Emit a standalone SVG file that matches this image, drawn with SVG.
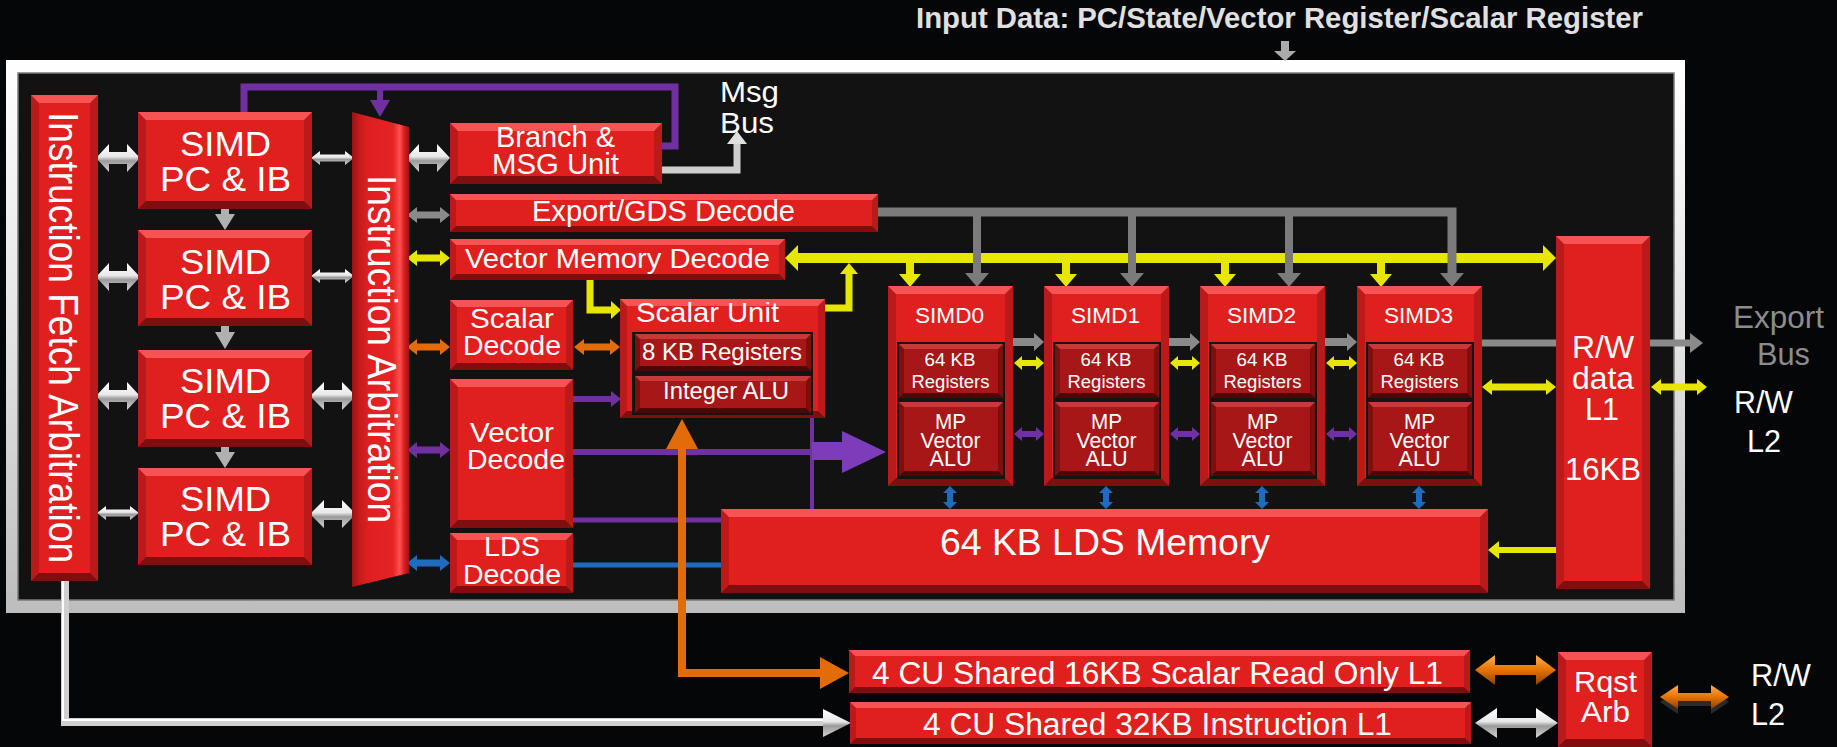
<svg xmlns="http://www.w3.org/2000/svg" width="1837" height="747" viewBox="0 0 1837 747">
<style>
.t{font-family:"Liberation Sans",Arial,sans-serif;fill:#fff}
.b{font-weight:bold}
.bo{fill:#bb1a1a}.bt{fill:#f65454}.bb{fill:#7f0e0e}.bf{fill:#e01f1f}
.do{fill:#7e0f0f}.dt{fill:#c83a3a}.db{fill:#4d0707}.df{fill:#a71717}
.fr{fill:#141414}
.sv{fill:url(#silv)}.or{fill:url(#orG)}
.gy{fill:#8a8a8a}.yl{fill:#e6e600}.oc{fill:#e36c0a}.pu{fill:#7030a0}.bl{fill:#1f6bbf}
.ls{fill:none;stroke-linejoin:miter}
</style>
<defs>
<linearGradient id="silv" x1="0" y1="0" x2="0" y2="1"><stop offset="0" stop-color="#ffffff"/><stop offset="0.45" stop-color="#e8e8e8"/><stop offset="0.6" stop-color="#9a9a9a"/><stop offset="1" stop-color="#d4d4d4"/></linearGradient>
<linearGradient id="orG" x1="0" y1="0" x2="0" y2="1"><stop offset="0" stop-color="#ffb050"/><stop offset="0.5" stop-color="#e57200"/><stop offset="1" stop-color="#8a4000"/></linearGradient>
<linearGradient id="frameG" x1="0" y1="0" x2="0" y2="1"><stop offset="0" stop-color="#ffffff"/><stop offset="0.5" stop-color="#e4e4e4"/><stop offset="1" stop-color="#bdbdbd"/></linearGradient>
<linearGradient id="iag" x1="0" y1="0" x2="1" y2="0"><stop offset="0" stop-color="#9a1212"/><stop offset="0.14" stop-color="#c81b1b"/><stop offset="0.3" stop-color="#e02020"/><stop offset="0.72" stop-color="#e42424"/><stop offset="0.84" stop-color="#ff5050"/><stop offset="0.92" stop-color="#d81e1e"/><stop offset="1" stop-color="#a01414"/></linearGradient>
</defs>
<rect x="0" y="0" width="1837" height="747" fill="#050607"/>
<text class="t b" x="916" y="28" font-size="29" fill="#e0e0e0" style="fill:#e0e0e0" textLength="727" lengthAdjust="spacingAndGlyphs">Input Data: PC/State/Vector Register/Scalar Register</text>
<g id="frame">
<rect x="6" y="60" width="1679" height="553" fill="url(#frameG)"/>
<rect x="18" y="73" width="1656" height="527" fill="#121212" stroke="#7a7a7a" stroke-width="1.5"/>
</g>

<g id="connectors">
<path fill="#aaaaaa" d="M1281,41H1289V51H1296L1285,61L1274,51H1281Z"/>
<!-- PC arrows -->
<polygon class="sv" points="96,158 109,144 109,152 127,152 127,144 140,158 127,172 127,164 109,164 109,172"/>
<polygon class="sv" points="311,158 320,151 320,154.5 345,154.5 345,151 354,158 345,165 345,161.5 320,161.5 320,165"/>
<polygon class="sv" points="406,158 419,144 419,152 437,152 437,144 450,158 437,172 437,164 419,164 419,172"/>
<polygon class="sv" points="96,277 109,263 109,271 127,271 127,263 140,277 127,291 127,283 109,283 109,291"/>
<polygon class="sv" points="311,276 320,269 320,272.5 345,272.5 345,269 354,276 345,283 345,279.5 320,279.5 320,283"/>
<polygon class="sv" points="96,396 109,382 109,390 127,390 127,382 140,396 127,410 127,402 109,402 109,410"/>
<polygon class="sv" points="310,396 324,382 324,390 342,390 342,382 356,396 342,410 342,402 324,402 324,410"/>
<polygon class="sv" points="97,513 106,506 106,509.5 130,509.5 130,506 139,513 130,520 130,516.5 106,516.5 106,520"/>
<polygon class="sv" points="310,514 324,500 324,508 342,508 342,500 356,514 342,528 342,520 324,520 324,528"/>
<path fill="#b0b0b0" d="M221,209H229V214H235L225,230L215,214H221Z"/>
<path fill="#b0b0b0" d="M221,326H229V332H235L225,349L215,332H221Z"/>
<path fill="#b0b0b0" d="M221,447H229V452H235L225,468L215,452H221Z"/>
<!-- IA to decoders -->
<polygon class="gy" points="407,215 417,207 417,211.5 440,211.5 440,207 450,215 440,223 440,218.5 417,218.5 417,223"/>
<polygon class="yl" points="407,258 417,250 417,254.5 440,254.5 440,250 450,258 440,266 440,261.5 417,261.5 417,266"/>
<polygon class="oc" points="407,347 417,339 417,343.5 440,343.5 440,339 450,347 440,355 440,350.5 417,350.5 417,355"/>
<polygon class="pu" points="407,450 417,442 417,446.5 440,446.5 440,442 450,450 440,458 440,453.5 417,453.5 417,458"/>
<polygon class="bl" points="407,563 417,555 417,559.5 440,559.5 440,555 450,563 440,571 440,566.5 417,566.5 417,571"/>
<!-- purple loop -->
<path class="ls" stroke="#7030a0" stroke-width="7" d="M244,112V87H675V146H662"/>
<path class="pu" d="M377,87H383V100H390L380,117L370,100H377Z"/>
<!-- msg bus -->
<path class="ls" stroke="#cfcfcf" stroke-width="7" d="M662,170H737V143"/>
<polygon fill="#e0e0e0" points="727,144 747,144 737,131"/>
<!-- yellow bus -->
<rect class="yl" x="795" y="253" width="751" height="10"/>
<polygon class="yl" points="785,258 798,245 798,271"/>
<polygon class="yl" points="1556,258 1543,245 1543,271"/>
<path class="yl" d="M906,263H914V274H921L910,287L899,274H906Z"/>
<path class="yl" d="M1062,263H1070V274H1077L1066,287L1055,274H1062Z"/>
<path class="yl" d="M1221,263H1229V274H1236L1225,287L1214,274H1221Z"/>
<path class="yl" d="M1377,263H1385V274H1392L1381,287L1370,274H1377Z"/>
<path class="ls" stroke="#e6e600" stroke-width="7" d="M825,308H849V272"/>
<polygon class="yl" points="840,274 858,274 849,263"/>
<path class="ls" stroke="#e6e600" stroke-width="7" d="M590,280V310H612"/>
<polygon class="yl" points="611,301 621,310 611,319"/>
<!-- export bus -->
<path class="ls" stroke="#7b7b7b" stroke-width="9" d="M878,212H1452V274"/>
<path class="ls" stroke="#7b7b7b" stroke-width="8" d="M977,212V274M1132,212V274M1289,212V274"/>
<polygon fill="#7b7b7b" points="965,273 989,273 977,287"/>
<polygon fill="#7b7b7b" points="1120,273 1144,273 1132,287"/>
<polygon fill="#7b7b7b" points="1277,273 1301,273 1289,287"/>
<polygon fill="#7b7b7b" points="1440,273 1464,273 1452,287"/>
<!-- scalar / vector decode links -->
<polygon class="oc" points="574,347 584,339 584,343.5 610,343.5 610,339 620,347 610,355 610,350.5 584,350.5 584,355"/>
<path class="ls" stroke="#7030a0" stroke-width="6" d="M573,399H612"/>
<polygon class="pu" points="611,391 621,399 611,407"/>
<path class="ls" stroke="#7030a0" stroke-width="6" d="M573,452H815"/>
<path class="ls" stroke="#7030a0" stroke-width="4" d="M812,417V509"/>
<rect x="812" y="442" width="31" height="18" fill="#7d3dbb"/>
<polygon fill="#7d3dbb" points="842,431 886,452 842,473"/>
<path class="ls" stroke="#7030a0" stroke-width="5" d="M573,520H721"/>
<path class="ls" stroke="#1f6bbf" stroke-width="5" d="M573,565H721"/>
<path class="ls" stroke="#e36c0a" stroke-width="8" d="M682,448V673H822"/>
<polygon class="oc" points="666,449 698,449 682,419"/>
<polygon class="oc" points="820,657 849,673 820,689"/>
<!-- between SIMDs -->
<path fill="#8a8a8a" d="M1013,338H1034V333L1044,342L1034,351V346H1013Z"/>
<path fill="#8a8a8a" d="M1169,338H1190V333L1200,342L1190,351V346H1169Z"/>
<path fill="#8a8a8a" d="M1325,338H1347V333L1357,342L1347,351V346H1325Z"/>
<polygon class="yl" points="1014,363 1022,356 1022,360 1036,360 1036,356 1044,363 1036,370 1036,366 1022,366 1022,370"/>
<polygon class="yl" points="1170,363 1178,356 1178,360 1192,360 1192,356 1200,363 1192,370 1192,366 1178,366 1178,370"/>
<polygon class="yl" points="1326,363 1334,356 1334,360 1349,360 1349,356 1357,363 1349,370 1349,366 1334,366 1334,370"/>
<polygon class="pu" points="1014,434 1022,427 1022,431 1036,431 1036,427 1044,434 1036,441 1036,437 1022,437 1022,441"/>
<polygon class="pu" points="1170,434 1178,427 1178,431 1192,431 1192,427 1200,434 1192,441 1192,437 1178,437 1178,441"/>
<polygon class="pu" points="1326,434 1334,427 1334,431 1349,431 1349,427 1357,434 1349,441 1349,437 1334,437 1334,441"/>
<polygon class="bl" points="950,486 957,493 953,493 953,502 957,502 950,509 943,502 947,502 947,493 943,493"/>
<polygon class="bl" points="1106,486 1113,493 1109,493 1109,502 1113,502 1106,509 1099,502 1103,502 1103,493 1099,493"/>
<polygon class="bl" points="1262,486 1269,493 1265,493 1265,502 1269,502 1262,509 1255,502 1259,502 1259,493 1255,493"/>
<polygon class="bl" points="1419,486 1426,493 1422,493 1422,502 1426,502 1419,509 1412,502 1416,502 1416,493 1412,493"/>
<!-- R/W links -->
<path class="ls" stroke="#8a8a8a" stroke-width="7" d="M1482,343H1556"/>
<path class="ls" stroke="#8a8a8a" stroke-width="7" d="M1650,343H1691"/>
<polygon fill="#8a8a8a" points="1690,333 1703,343 1690,353"/>
<polygon class="yl" points="1482,387 1492,379 1492,383.5 1546,383.5 1546,379 1556,387 1546,395 1546,390.5 1492,390.5 1492,395"/>
<polygon class="yl" points="1651,387 1661,379 1661,383.5 1697,383.5 1697,379 1707,387 1697,395 1697,390.5 1661,390.5 1661,395"/>
<path class="ls" stroke="#e6e600" stroke-width="6" d="M1498,550H1556"/>
<polygon class="yl" points="1499,541 1488,550 1499,559"/>
<!-- lower -->
<path class="ls" stroke="#cfcfcf" stroke-width="8" d="M65,581V722H825"/>
<path class="ls" stroke="#ffffff" stroke-width="2" d="M63,581V720H825"/>
<polygon class="sv" points="823,709 851,723 823,737"/>
<polygon class="or" points="1475,670 1495,655 1495,665 1536,665 1536,655 1556,670 1536,685 1536,675 1495,675 1495,685"/>
<polygon class="sv" points="1475,723 1497,708 1497,718 1536,718 1536,708 1558,723 1536,738 1536,728 1497,728 1497,738"/>
<polygon fill="#2a2a2a" points="1660,702 1678,690 1678,698 1711,698 1711,690 1729,702 1711,714 1711,706 1678,706 1678,714"/>
<polygon class="or" points="1660,697 1678,685 1678,693 1711,693 1711,685 1729,697 1711,709 1711,701 1678,701 1678,709"/>
</g>

<g id="ifa">
<rect class="bo" x="31" y="95" width="67" height="486"/>
<path class="bt" d="M31,95H98L90,103H39Z"/><path class="bb" d="M31,581H98L90,573H39Z"/>
<rect class="bf" x="39" y="103" width="51" height="470"/>
<text class="t" transform="translate(49,112) rotate(90)" font-size="43" textLength="451" lengthAdjust="spacingAndGlyphs">Instruction Fetch Arbitration</text>
</g>

<g id="pc1">
<rect class="bo" x="138" y="112" width="174" height="97"/>
<path class="bt" d="M138,112H312L304,120H146Z"/><path class="bb" d="M138,209H312L304,201H146Z"/>
<rect class="bf" x="146" y="120" width="158" height="81"/>
<text class="t" x="180" y="156" font-size="35" textLength="91" lengthAdjust="spacingAndGlyphs">SIMD</text>
<text class="t" x="160" y="191" font-size="35" textLength="131" lengthAdjust="spacingAndGlyphs">PC &amp; IB</text>
</g>
<g id="pc2">
<rect class="bo" x="138" y="230" width="174" height="96"/>
<path class="bt" d="M138,230H312L304,238H146Z"/><path class="bb" d="M138,326H312L304,318H146Z"/>
<rect class="bf" x="146" y="238" width="158" height="80"/>
<text class="t" x="180" y="274" font-size="35" textLength="91" lengthAdjust="spacingAndGlyphs">SIMD</text>
<text class="t" x="160" y="309" font-size="35" textLength="131" lengthAdjust="spacingAndGlyphs">PC &amp; IB</text>
</g>
<g id="pc3">
<rect class="bo" x="138" y="350" width="174" height="97"/>
<path class="bt" d="M138,350H312L304,358H146Z"/><path class="bb" d="M138,447H312L304,439H146Z"/>
<rect class="bf" x="146" y="358" width="158" height="81"/>
<text class="t" x="180" y="393" font-size="35" textLength="91" lengthAdjust="spacingAndGlyphs">SIMD</text>
<text class="t" x="160" y="428" font-size="35" textLength="131" lengthAdjust="spacingAndGlyphs">PC &amp; IB</text>
</g>
<g id="pc4">
<rect class="bo" x="138" y="468" width="174" height="97"/>
<path class="bt" d="M138,468H312L304,476H146Z"/><path class="bb" d="M138,565H312L304,557H146Z"/>
<rect class="bf" x="146" y="476" width="158" height="81"/>
<text class="t" x="180" y="511" font-size="35" textLength="91" lengthAdjust="spacingAndGlyphs">SIMD</text>
<text class="t" x="160" y="546" font-size="35" textLength="131" lengthAdjust="spacingAndGlyphs">PC &amp; IB</text>
</g>

<g id="ia">
<polygon fill="url(#iag)" points="352,112 409,127 409,573 352,587"/>
<text class="t" transform="translate(368,175) rotate(90)" font-size="40" textLength="348" lengthAdjust="spacingAndGlyphs">Instruction Arbitration</text>
</g>

<g id="branch">
<rect class="bo" x="450" y="123" width="212" height="61"/>
<path class="bt" d="M450,123H662L654,131H458Z"/><path class="bb" d="M450,184H662L654,176H458Z"/>
<rect class="bf" x="458" y="131" width="196" height="45"/>
<text class="t" x="496" y="147" font-size="30" textLength="119" lengthAdjust="spacingAndGlyphs">Branch &amp;</text>
<text class="t" x="492" y="174" font-size="30" textLength="127" lengthAdjust="spacingAndGlyphs">MSG Unit</text>
</g>
<text class="t" x="720" y="102" font-size="30" textLength="59" lengthAdjust="spacingAndGlyphs">Msg</text>
<text class="t" x="720" y="133" font-size="30" textLength="54" lengthAdjust="spacingAndGlyphs">Bus</text>

<g id="export">
<rect class="bo" x="450" y="194" width="428" height="38"/>
<path class="bt" d="M450,194H878L872,200H456Z"/><path class="bb" d="M450,232H878L872,226H456Z"/>
<rect class="bf" x="456" y="200" width="416" height="26"/>
<text class="t" x="532" y="221" font-size="29" textLength="263" lengthAdjust="spacingAndGlyphs">Export/GDS Decode</text>
</g>
<g id="vmd">
<rect class="bo" x="450" y="239" width="335" height="41"/>
<path class="bt" d="M450,239H785L779,245H456Z"/><path class="bb" d="M450,280H785L779,274H456Z"/>
<rect class="bf" x="456" y="245" width="323" height="29"/>
<text class="t" x="465" y="268" font-size="28" textLength="305" lengthAdjust="spacingAndGlyphs">Vector Memory Decode</text>
</g>
<g id="sd">
<rect class="bo" x="450" y="300" width="123" height="70"/>
<path class="bt" d="M450,300H573L566,307H457Z"/><path class="bb" d="M450,370H573L566,363H457Z"/>
<rect class="bf" x="457" y="307" width="109" height="56"/>
<text class="t" x="470" y="328" font-size="28" textLength="84" lengthAdjust="spacingAndGlyphs">Scalar</text>
<text class="t" x="463" y="355" font-size="28" textLength="98" lengthAdjust="spacingAndGlyphs">Decode</text>
</g>
<g id="vd">
<rect class="bo" x="450" y="379" width="123" height="149"/>
<path class="bt" d="M450,379H573L565,387H458Z"/><path class="bb" d="M450,528H573L565,520H458Z"/>
<rect class="bf" x="458" y="387" width="107" height="133"/>
<text class="t" x="470" y="442" font-size="28" textLength="84" lengthAdjust="spacingAndGlyphs">Vector</text>
<text class="t" x="467" y="469" font-size="28" textLength="98" lengthAdjust="spacingAndGlyphs">Decode</text>
</g>
<g id="ldsd">
<rect class="bo" x="450" y="533" width="123" height="60"/>
<path class="bt" d="M450,533H573L566,540H457Z"/><path class="bb" d="M450,593H573L566,586H457Z"/>
<rect class="bf" x="457" y="540" width="109" height="46"/>
<text class="t" x="484" y="556" font-size="28" textLength="56" lengthAdjust="spacingAndGlyphs">LDS</text>
<text class="t" x="463" y="584" font-size="28" textLength="98" lengthAdjust="spacingAndGlyphs">Decode</text>
</g>

<g id="scalarunit">
<rect class="bo" x="620" y="299" width="205" height="119"/>
<path class="bt" d="M620,299H825L818,306H627Z"/><path class="bb" d="M620,418H825L818,411H627Z"/>
<rect class="bf" x="627" y="306" width="191" height="105"/>
<text class="t" x="636" y="322" font-size="28" textLength="143" lengthAdjust="spacingAndGlyphs">Scalar Unit</text>
<rect class="fr" x="632" y="332" width="181" height="83"/>
<rect class="do" x="635" y="334" width="176" height="37"/>
<path class="dt" d="M635,334H811L806,339H640Z"/><path class="db" d="M635,371H811L806,366H640Z"/>
<rect class="df" x="640" y="339" width="166" height="27"/>
<text class="t" x="642" y="360" font-size="23" textLength="160" lengthAdjust="spacingAndGlyphs">8 KB Registers</text>
<rect class="do" x="635" y="376" width="176" height="37"/>
<path class="dt" d="M635,376H811L806,381H640Z"/><path class="db" d="M635,413H811L806,408H640Z"/>
<rect class="df" x="640" y="381" width="166" height="27"/>
<text class="t" x="663" y="399" font-size="23" textLength="126" lengthAdjust="spacingAndGlyphs">Integer ALU</text>
</g>

<g id="simd0">
<rect class="bo" x="888" y="286" width="125" height="200"/>
<path class="bt" d="M888,286H1013L1005,294H896Z"/><path class="bb" d="M888,486H1013L1005,478H896Z"/>
<rect class="bf" x="896" y="294" width="109" height="184"/>
<text class="t" x="915" y="323" font-size="22" textLength="69" lengthAdjust="spacingAndGlyphs">SIMD0</text>
<rect class="fr" x="897" y="342" width="108" height="137"/>
<rect class="do" x="899" y="344" width="104" height="54"/>
<path class="dt" d="M899,344H1003L998,349H904Z"/><path class="db" d="M899,398H1003L998,393H904Z"/>
<rect class="df" x="904" y="349" width="94" height="44"/>
<rect class="do" x="899" y="402" width="104" height="74"/>
<path class="dt" d="M899,402H1003L998,407H904Z"/><path class="db" d="M899,476H1003L998,471H904Z"/>
<rect class="df" x="904" y="407" width="94" height="64"/>
<text class="t" x="924.5" y="366" font-size="18" textLength="51" lengthAdjust="spacingAndGlyphs">64 KB</text>
<text class="t" x="911.5" y="388" font-size="18" textLength="78" lengthAdjust="spacingAndGlyphs">Registers</text>
<text class="t" x="935" y="429" font-size="22" textLength="31" lengthAdjust="spacingAndGlyphs">MP</text>
<text class="t" x="920.5" y="448" font-size="22" textLength="60" lengthAdjust="spacingAndGlyphs">Vector</text>
<text class="t" x="929.5" y="466" font-size="22" textLength="42" lengthAdjust="spacingAndGlyphs">ALU</text>
</g>
<g id="simd1">
<rect class="bo" x="1044" y="286" width="125" height="200"/>
<path class="bt" d="M1044,286H1169L1161,294H1052Z"/><path class="bb" d="M1044,486H1169L1161,478H1052Z"/>
<rect class="bf" x="1052" y="294" width="109" height="184"/>
<text class="t" x="1071" y="323" font-size="22" textLength="69" lengthAdjust="spacingAndGlyphs">SIMD1</text>
<rect class="fr" x="1053" y="342" width="108" height="137"/>
<rect class="do" x="1055" y="344" width="104" height="54"/>
<path class="dt" d="M1055,344H1159L1154,349H1060Z"/><path class="db" d="M1055,398H1159L1154,393H1060Z"/>
<rect class="df" x="1060" y="349" width="94" height="44"/>
<rect class="do" x="1055" y="402" width="104" height="74"/>
<path class="dt" d="M1055,402H1159L1154,407H1060Z"/><path class="db" d="M1055,476H1159L1154,471H1060Z"/>
<rect class="df" x="1060" y="407" width="94" height="64"/>
<text class="t" x="1080.5" y="366" font-size="18" textLength="51" lengthAdjust="spacingAndGlyphs">64 KB</text>
<text class="t" x="1067.5" y="388" font-size="18" textLength="78" lengthAdjust="spacingAndGlyphs">Registers</text>
<text class="t" x="1091" y="429" font-size="22" textLength="31" lengthAdjust="spacingAndGlyphs">MP</text>
<text class="t" x="1076.5" y="448" font-size="22" textLength="60" lengthAdjust="spacingAndGlyphs">Vector</text>
<text class="t" x="1085.5" y="466" font-size="22" textLength="42" lengthAdjust="spacingAndGlyphs">ALU</text>
</g>
<g id="simd2">
<rect class="bo" x="1200" y="286" width="125" height="200"/>
<path class="bt" d="M1200,286H1325L1317,294H1208Z"/><path class="bb" d="M1200,486H1325L1317,478H1208Z"/>
<rect class="bf" x="1208" y="294" width="109" height="184"/>
<text class="t" x="1227" y="323" font-size="22" textLength="69" lengthAdjust="spacingAndGlyphs">SIMD2</text>
<rect class="fr" x="1209" y="342" width="108" height="137"/>
<rect class="do" x="1211" y="344" width="104" height="54"/>
<path class="dt" d="M1211,344H1315L1310,349H1216Z"/><path class="db" d="M1211,398H1315L1310,393H1216Z"/>
<rect class="df" x="1216" y="349" width="94" height="44"/>
<rect class="do" x="1211" y="402" width="104" height="74"/>
<path class="dt" d="M1211,402H1315L1310,407H1216Z"/><path class="db" d="M1211,476H1315L1310,471H1216Z"/>
<rect class="df" x="1216" y="407" width="94" height="64"/>
<text class="t" x="1236.5" y="366" font-size="18" textLength="51" lengthAdjust="spacingAndGlyphs">64 KB</text>
<text class="t" x="1223.5" y="388" font-size="18" textLength="78" lengthAdjust="spacingAndGlyphs">Registers</text>
<text class="t" x="1247" y="429" font-size="22" textLength="31" lengthAdjust="spacingAndGlyphs">MP</text>
<text class="t" x="1232.5" y="448" font-size="22" textLength="60" lengthAdjust="spacingAndGlyphs">Vector</text>
<text class="t" x="1241.5" y="466" font-size="22" textLength="42" lengthAdjust="spacingAndGlyphs">ALU</text>
</g>
<g id="simd3">
<rect class="bo" x="1357" y="286" width="125" height="200"/>
<path class="bt" d="M1357,286H1482L1474,294H1365Z"/><path class="bb" d="M1357,486H1482L1474,478H1365Z"/>
<rect class="bf" x="1365" y="294" width="109" height="184"/>
<text class="t" x="1384" y="323" font-size="22" textLength="69" lengthAdjust="spacingAndGlyphs">SIMD3</text>
<rect class="fr" x="1366" y="342" width="108" height="137"/>
<rect class="do" x="1368" y="344" width="104" height="54"/>
<path class="dt" d="M1368,344H1472L1467,349H1373Z"/><path class="db" d="M1368,398H1472L1467,393H1373Z"/>
<rect class="df" x="1373" y="349" width="94" height="44"/>
<rect class="do" x="1368" y="402" width="104" height="74"/>
<path class="dt" d="M1368,402H1472L1467,407H1373Z"/><path class="db" d="M1368,476H1472L1467,471H1373Z"/>
<rect class="df" x="1373" y="407" width="94" height="64"/>
<text class="t" x="1393.5" y="366" font-size="18" textLength="51" lengthAdjust="spacingAndGlyphs">64 KB</text>
<text class="t" x="1380.5" y="388" font-size="18" textLength="78" lengthAdjust="spacingAndGlyphs">Registers</text>
<text class="t" x="1404" y="429" font-size="22" textLength="31" lengthAdjust="spacingAndGlyphs">MP</text>
<text class="t" x="1389.5" y="448" font-size="22" textLength="60" lengthAdjust="spacingAndGlyphs">Vector</text>
<text class="t" x="1398.5" y="466" font-size="22" textLength="42" lengthAdjust="spacingAndGlyphs">ALU</text>
</g>

<g id="lds">
<rect class="bo" x="721" y="509" width="767" height="84"/>
<path class="bt" d="M721,509H1488L1480,517H729Z"/><path class="bb" d="M721,593H1488L1480,585H729Z"/>
<rect class="bf" x="729" y="517" width="751" height="68"/>
<text class="t" x="940" y="555" font-size="37" textLength="330" lengthAdjust="spacingAndGlyphs">64 KB LDS Memory</text>
</g>
<g id="rwl1">
<rect class="bo" x="1556" y="236" width="94" height="353"/>
<path class="bt" d="M1556,236H1650L1642,244H1564Z"/><path class="bb" d="M1556,589H1650L1642,581H1564Z"/>
<rect class="bf" x="1564" y="244" width="78" height="337"/>
<text class="t" x="1572" y="358" font-size="31" textLength="62" lengthAdjust="spacingAndGlyphs">R/W</text>
<text class="t" x="1572" y="389" font-size="31" textLength="62" lengthAdjust="spacingAndGlyphs">data</text>
<text class="t" x="1585" y="420" font-size="31" textLength="34" lengthAdjust="spacingAndGlyphs">L1</text>
<text class="t" x="1565" y="480" font-size="31" textLength="76" lengthAdjust="spacingAndGlyphs">16KB</text>
</g>
<text class="t" x="1733" y="328" font-size="32" style="fill:#8c8c8c" textLength="91" lengthAdjust="spacingAndGlyphs">Export</text>
<text class="t" x="1757" y="365" font-size="32" style="fill:#8c8c8c" textLength="53" lengthAdjust="spacingAndGlyphs">Bus</text>
<text class="t" x="1734" y="413" font-size="31" textLength="59" lengthAdjust="spacingAndGlyphs">R/W</text>
<text class="t" x="1747" y="452" font-size="31" textLength="34" lengthAdjust="spacingAndGlyphs">L2</text>

<g id="scalarl1">
<rect class="bo" x="849" y="650" width="621" height="43"/>
<path class="bt" d="M849,650H1470L1464,656H855Z"/><path class="bb" d="M849,693H1470L1464,687H855Z"/>
<rect class="bf" x="855" y="656" width="609" height="31"/>
<text class="t" x="872" y="684" font-size="31" textLength="571" lengthAdjust="spacingAndGlyphs">4 CU Shared 16KB Scalar Read Only L1</text>
</g>
<g id="instl1">
<rect class="bo" x="850" y="702" width="621" height="42"/>
<path class="bt" d="M850,702H1471L1465,708H856Z"/><path class="bb" d="M850,744H1471L1465,738H856Z"/>
<rect class="bf" x="856" y="708" width="609" height="30"/>
<text class="t" x="923" y="735" font-size="31" textLength="469" lengthAdjust="spacingAndGlyphs">4 CU Shared 32KB Instruction L1</text>
</g>
<g id="rqst">
<rect class="bo" x="1558" y="652" width="94" height="95"/>
<path class="bt" d="M1558,652H1652L1644,660H1566Z"/><path class="bb" d="M1558,747H1652L1644,739H1566Z"/>
<rect class="bf" x="1566" y="660" width="78" height="79"/>
<text class="t" x="1574" y="692" font-size="30" textLength="63" lengthAdjust="spacingAndGlyphs">Rqst</text>
<text class="t" x="1581" y="722" font-size="30" textLength="49" lengthAdjust="spacingAndGlyphs">Arb</text>
</g>
<text class="t" x="1751" y="686" font-size="31" textLength="60" lengthAdjust="spacingAndGlyphs">R/W</text>
<text class="t" x="1751" y="725" font-size="31" textLength="34" lengthAdjust="spacingAndGlyphs">L2</text>
</svg>
